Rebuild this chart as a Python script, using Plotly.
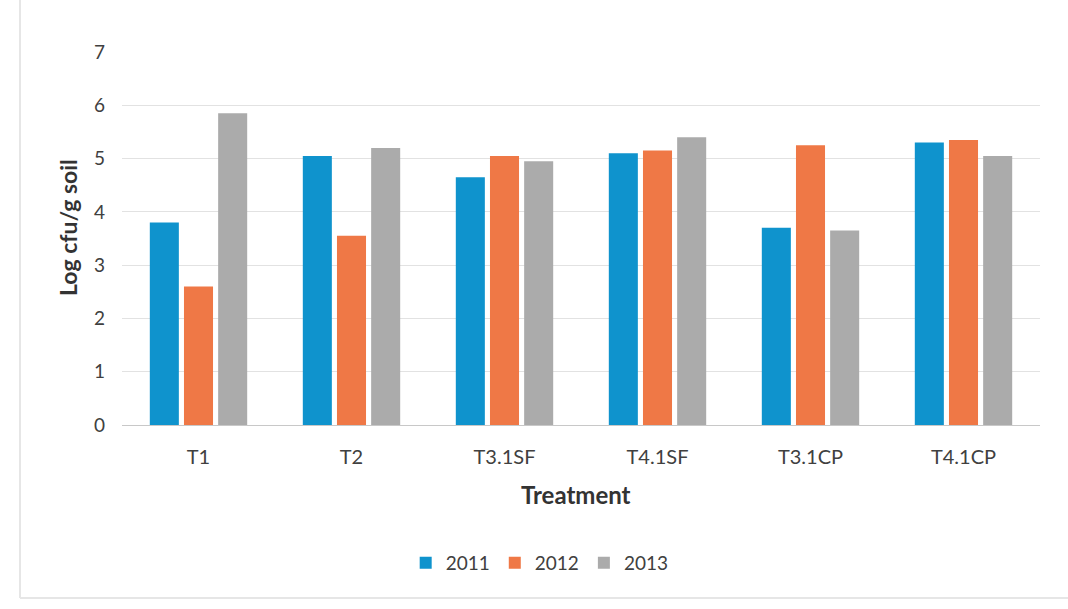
import plotly.graph_objects as go

categories = ["T1", "T2", "T3.1SF", "T4.1SF", "T3.1CP", "T4.1CP"]
years = ["2011", "2012", "2013"]
v2011 = [3.8, 5.05, 4.65, 5.1, 3.7, 5.3]
v2012 = [2.6, 3.55, 5.05, 5.15, 5.25, 5.35]
v2013 = [5.85, 5.2, 4.95, 5.4, 3.65, 5.05]
colors = ["#0F93CD", "#EF7846", "#ABABAB"]
y_ticks = [0, 1, 2, 3, 4, 5, 6, 7]

FONT = "Lato, 'Open Sans', sans-serif"

fig = go.Figure()
for name, vals, col in zip(years, [v2011, v2012, v2013], colors):
    fig.add_trace(go.Bar(name=name, x=categories, y=vals, marker=dict(color=col, line=dict(width=0))))

W, H = 1068, 609
L, R, T, B = 122, 1040, 52, 425
pw, ph = R - L, B - T

def px(x):
    return (x - L) / pw

def py(y):
    return (B - y) / ph

fig.update_layout(
    width=W, height=H,
    margin=dict(l=L, r=W - R, t=T, b=H - B),
    paper_bgcolor="white", plot_bgcolor="white",
    barmode="group", bargap=0.33, bargroupgap=0.15,
    font=dict(family=FONT, color="#404040", size=17),
    showlegend=True,
    legend=dict(orientation="h", x=0.455, xanchor="center", y=py(563), yanchor="middle",
                font=dict(size=19, color="#404040"), itemwidth=30, traceorder="normal"),
    xaxis=dict(showgrid=False, showline=True, linecolor="#C8C8C8", linewidth=1,
               ticks="", tickfont=dict(size=20, color="#404040"), ticklabelstandoff=14),
    yaxis=dict(range=[0, 7], tickvals=y_ticks, showgrid=True, gridcolor="#E2E2E2", gridwidth=1,
               zeroline=False, showline=False, ticks="", ticklabelstandoff=16,
               tickfont=dict(size=19, color="#404040")),
    annotations=[
        dict(text="<b>Log cfu/g soil</b>", x=px(68), y=py(228), xref="paper", yref="paper",
             xanchor="center", yanchor="middle",
             textangle=-90, showarrow=False, font=dict(size=23, color="#333333", family=FONT)),
        dict(text="<b>Treatment</b>", x=px(576), y=py(495), xref="paper", yref="paper",
             xanchor="center", yanchor="middle",
             showarrow=False, font=dict(size=24, color="#333333", family=FONT)),
    ],
    shapes=[
        dict(type="line", xref="paper", yref="paper", x0=px(20), x1=px(20), y0=py(0), y1=py(598),
             line=dict(color="#E6E6E6", width=2)),
        dict(type="line", xref="paper", yref="paper", x0=px(20), x1=px(1068), y0=py(598), y1=py(598),
             line=dict(color="#E6E6E6", width=2)),
    ],
)

fig.write_html("out.html")
